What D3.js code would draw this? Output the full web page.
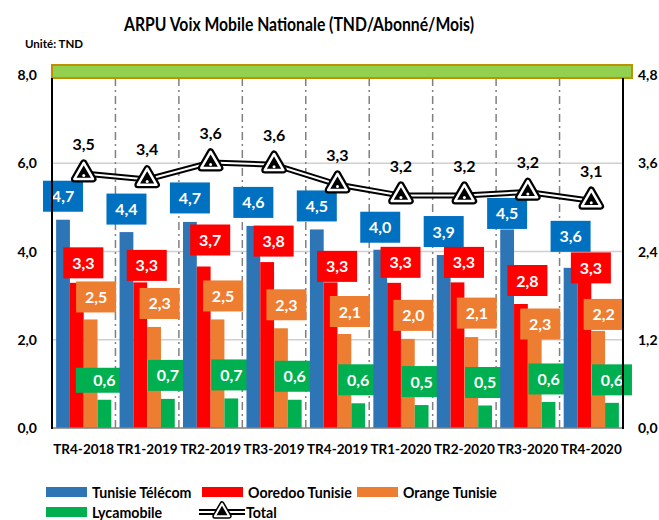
<!DOCTYPE html>
<html lang="fr">
<head>
  <meta charset="UTF-8">
  <title>ARPU Voix Mobile Nationale</title>
  <script src="https://d3js.org/d3.v7.min.js"></script>
  <style>
    body { margin: 0; background: #fff; }
    text { font-family: Lato, "Open Sans", Arial; font-weight: bold; }
  </style>
</head>
<body>
  <script>
    // Données
    const categories = ["TR4-2018", "TR1-2019", "TR2-2019", "TR3-2019", "TR4-2019",
                        "TR1-2020", "TR2-2020", "TR3-2020", "TR4-2020"];
    const seriesNames = ["Tunisie Télécom", "Ooredoo Tunisie", "Orange Tunisie", "Lycamobile"];
    const tunisieTelecom = [4.72, 4.44, 4.67, 4.58, 4.5, 4.04, 3.92, 4.5, 3.63];
    const ooredoo = [3.29, 3.3, 3.66, 3.76, 3.3, 3.29, 3.3, 2.81, 3.3];
    const orange = [2.46, 2.29, 2.46, 2.26, 2.13, 2.02, 2.06, 2.3, 2.2];
    const lycamobile = [0.64, 0.66, 0.67, 0.64, 0.56, 0.52, 0.51, 0.59, 0.57];
    const total = [3.46, 3.38, 3.61, 3.58, 3.31, 3.16, 3.16, 3.21, 3.09];
    const leftTicks = [0, 2, 4, 6, 8];
    const rightTicks = [0, 1.2, 2.4, 3.6, 4.8];

    const barColors = ["#2E75B6", "#FF0000", "#ED7D31", "#00B050"];
    const labelColors = ["#0070C0", "#FF0000", "#ED7D31", "#00B050"];
    const seriesValues = [tunisieTelecom, ooredoo, orange, lycamobile];

    // Placement des étiquettes (décalage au-dessus du haut de barre, en px)
    const labelLift = [
      [23.5, 23, 24, 23.5, 23.5, 22.5, 23.5, 16, 31.5],
      [20, 17, 26.5, 21, 16, 20.5, 20, 23.5, 14.5],
      [22.5, 23.5, 23.5, 23.5, 22.5, 23.5, 24, 2.5, 16.5],
      [19.5, 23.5, 23.5, 23.5, 23.5, 23.5, 23, 23, 23]
    ];
    const labelShift = [0, 6.5, 5.5, 0];

    const width = 659, height = 520;
    const mLeft = 52, mRight = 623, mTop = 75, mBottom = 428;
    const fmt = v => d3.format(".1f")(v).replace(".", ",");

    const svg = d3.select("body").append("svg")
      .attr("width", width).attr("height", height);

    const x = d3.scaleBand().domain(categories).range([mLeft, mRight]);
    const bw = x.bandwidth();
    const x1 = d3.scaleBand().domain(seriesNames).range([bw * 0.065, bw * 0.935]);
    const y = d3.scaleLinear().domain([0, 8]).range([mBottom, mTop]);
    const yR = d3.scaleLinear().domain([0, 4.8]).range([mBottom, mTop]);

    // Titre
    svg.append("text").attr("x", 299).attr("y", 31)
      .attr("text-anchor", "middle").attr("font-size", 18)
      .attr("textLength", 350).attr("lengthAdjust", "spacingAndGlyphs")
      .text("ARPU Voix Mobile Nationale (TND/Abonné/Mois)");
    svg.append("text").attr("x", 25).attr("y", 48)
      .attr("font-size", 11.5).text("Unité: TND");

    // Grille horizontale
    svg.append("g").selectAll("line")
      .data(leftTicks.filter(d => d > 0 && d < 8))
      .join("line")
      .attr("x1", mLeft).attr("x2", mRight)
      .attr("y1", d => y(d)).attr("y2", d => y(d))
      .attr("stroke", "#D0D0D0").attr("stroke-width", 1.5);

    // Séparateurs verticaux
    svg.append("g").selectAll("line")
      .data(categories.slice(1))
      .join("line")
      .attr("x1", d => x(d)).attr("x2", d => x(d))
      .attr("y1", y(8) + 3).attr("y2", mBottom)
      .attr("stroke", "#808080").attr("stroke-width", 1.5)
      .attr("stroke-dasharray", "8,4,2,4");

    // Bande verte en haut
    svg.append("rect")
      .attr("x", mLeft).attr("y", y(8) - 10)
      .attr("width", mRight - mLeft + 9).attr("height", 13)
      .attr("fill", "#92D050").attr("stroke", "#BF9000").attr("stroke-width", 2);

    // Barres
    const groups = svg.append("g").selectAll("g")
      .data(categories)
      .join("g")
      .attr("transform", d => `translate(${x(d)},0)`);

    const cells = (c, i) => seriesNames.map((s, k) => ({ s, k, i, v: seriesValues[k][i] }));

    groups.selectAll("rect")
      .data(cells)
      .join("rect")
      .attr("x", d => x1(d.s))
      .attr("y", d => y(d.v))
      .attr("width", x1.bandwidth())
      .attr("height", d => mBottom - y(d.v))
      .attr("fill", d => barColors[d.k]);

    // Axes
    svg.append("line").attr("x1", mLeft).attr("x2", mRight)
      .attr("y1", mBottom).attr("y2", mBottom)
      .attr("stroke", "#7F7F7F").attr("stroke-width", 1.5);
    svg.append("line").attr("x1", mLeft).attr("x2", mLeft)
      .attr("y1", y(8) + 3).attr("y2", mBottom + 1)
      .attr("stroke", "#000").attr("stroke-width", 2);
    svg.append("line").attr("x1", mRight).attr("x2", mRight)
      .attr("y1", y(8) + 3).attr("y2", mBottom + 1)
      .attr("stroke", "#000").attr("stroke-width", 2);

    svg.append("g").selectAll("text")
      .data(leftTicks)
      .join("text")
      .attr("x", 37).attr("y", d => y(d) + 5)
      .attr("text-anchor", "end").attr("font-size", 14)
      .text(d => fmt(d));

    svg.append("g").selectAll("text")
      .data(rightTicks)
      .join("text")
      .attr("x", 638).attr("y", d => yR(d) + 5)
      .attr("font-size", 14)
      .text(d => fmt(d));

    svg.append("g").selectAll("text")
      .data(categories)
      .join("text")
      .attr("x", d => x(d) + bw / 2).attr("y", 454)
      .attr("text-anchor", "middle").attr("font-size", 13.5)
      .text(d => d);

    // Étiquettes des barres
    const lab = groups.selectAll("g.lab")
      .data(cells)
      .join("g").attr("class", "lab")
      .attr("transform", d => `translate(${x1(d.s) + x1.bandwidth() / 2 + labelShift[d.k]},${y(d.v) - labelLift[d.k][d.i]})`);
    lab.append("rect")
      .attr("x", d => (d.k === 3 && d.i === 0) ? -28.5 : -20)
      .attr("y", d => (d.k === 3 && d.i === 0) ? -12.5 : -15.5)
      .attr("width", d => (d.k === 3 && d.i === 0) ? 57 : 40)
      .attr("height", d => (d.k === 3 && d.i === 0) ? 25 : 31)
      .attr("fill", d => labelColors[d.k]);
    lab.append("text")
      .attr("y", 6).attr("text-anchor", "middle")
      .attr("font-size", 16).attr("fill", "#fff")
      .text(d => fmt(d.v));

    // Ligne Total
    const line = d3.line()
      .x((d, i) => x(categories[i]) + bw / 2)
      .y(d => yR(d));
    svg.append("path").datum(total).attr("d", line)
      .attr("fill", "none").attr("stroke", "#000").attr("stroke-width", 6);
    svg.append("path").datum(total).attr("d", line)
      .attr("fill", "none").attr("stroke", "#fff").attr("stroke-width", 2);

    const tri = d3.symbol().type(d3.symbolTriangle).size(150);
    const marks = svg.append("g").selectAll("g")
      .data(total)
      .join("g")
      .attr("transform", (d, i) => `translate(${x(categories[i]) + bw / 2},${yR(d)})`);
    marks.append("path").attr("d", tri)
      .attr("fill", "#000").attr("stroke", "#000").attr("stroke-width", 7)
      .attr("stroke-linejoin", "round");
    marks.append("path").attr("d", tri)
      .attr("fill", "#000").attr("stroke", "#fff").attr("stroke-width", 2.5)
      .attr("stroke-linejoin", "round");
    marks.append("circle").attr("cy", 2).attr("r", 1.5).attr("fill", "#fff");

    marks.append("text")
      .attr("y", -24).attr("text-anchor", "middle")
      .attr("font-size", 16).attr("fill", "#000")
      .text(d => fmt(d));

    // Légende
    const legend = svg.append("g");
    const legItems = [
      { name: seriesNames[0], color: barColors[0], x: 46, y: 492 },
      { name: seriesNames[1], color: barColors[1], x: 202, y: 492 },
      { name: seriesNames[2], color: barColors[2], x: 357, y: 492 },
      { name: seriesNames[3], color: barColors[3], x: 46, y: 512 }
    ];
    legItems.forEach(d => {
      legend.append("rect").attr("x", d.x).attr("y", d.y - 5)
        .attr("width", 41).attr("height", 10).attr("fill", d.color);
      legend.append("text").attr("x", d.x + 46).attr("y", d.y + 5.5)
        .attr("font-size", 14.2).text(d.name);
    });
    legend.append("line").attr("x1", 199).attr("x2", 245)
      .attr("y1", 512).attr("y2", 512).attr("stroke", "#000").attr("stroke-width", 6);
    legend.append("line").attr("x1", 199).attr("x2", 245)
      .attr("y1", 512).attr("y2", 512).attr("stroke", "#fff").attr("stroke-width", 2);
    const lt = d3.symbol().type(d3.symbolTriangle).size(90);
    legend.append("path").attr("d", lt).attr("transform", "translate(222,512)")
      .attr("fill", "#000").attr("stroke", "#000").attr("stroke-width", 5).attr("stroke-linejoin", "round");
    legend.append("path").attr("d", lt).attr("transform", "translate(222,512)")
      .attr("fill", "#000").attr("stroke", "#fff").attr("stroke-width", 2).attr("stroke-linejoin", "round");
    legend.append("text").attr("x", 246).attr("y", 517.5)
      .attr("font-size", 14.2).text("Total");
  </script>
</body>
</html>
